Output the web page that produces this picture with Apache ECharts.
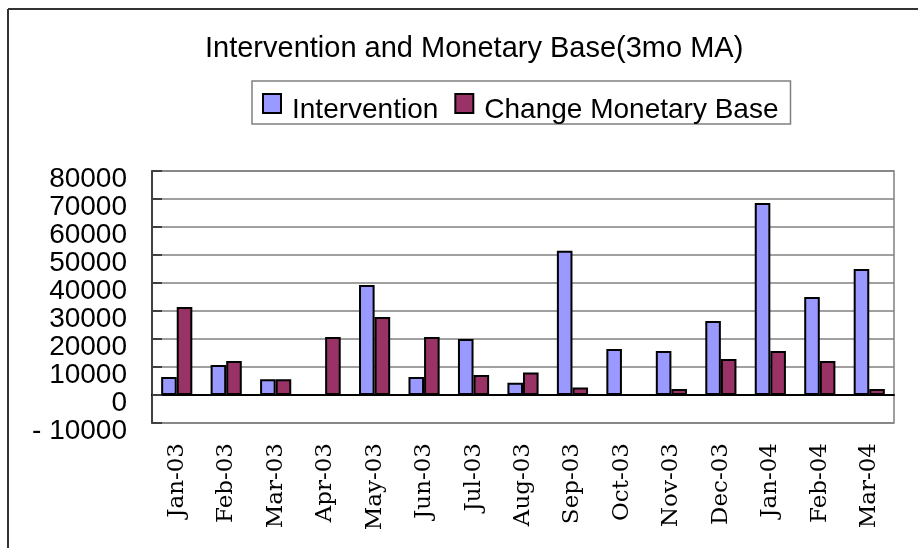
<!DOCTYPE html>
<html>
<head>
<meta charset="utf-8">
<script src="https://cdn.jsdelivr.net/npm/echarts@6/dist/echarts.min.js"></script>
<style>
  html, body { margin: 0; padding: 0; background: #fff; }
  #chart { width: 918px; height: 548px; }
</style>
</head>
<body>
<div id="chart"></div>
<script>
const months = ["Jan-03", "Feb-03", "Mar-03", "Apr-03", "May-03", "Jun-03", "Jul-03",
  "Aug-03", "Sep-03", "Oct-03", "Nov-03", "Dec-03", "Jan-04", "Feb-04", "Mar-04"];
const intervention = [6400, 10700, 5600, 0, 39300, 6400, 20000,
  4400, 51500, 16400, 15700, 26400, 68600, 35000, 45000];
const monetaryBase = [31400, 12100, 5600, 20700, 27900, 20700, 7100,
  8000, 2700, 0, 2100, 12900, 15700, 12100, 2100];
const yMin = -10000, yMax = 80000, yStep = 10000;

const chart = echarts.init(document.getElementById("chart"));
const sans = "Liberation Sans";

chart.setOption({
  animation: false,
  backgroundColor: "#fff",
  title: {
    text: "Intervention and Monetary Base(3mo MA)",
    left: 205,
    top: 34,
    padding: 0,
    textStyle: { fontFamily: sans, fontSize: 29, fontWeight: "normal", color: "#000" }
  },
  legend: {
    left: 252,
    top: 81,
    padding: [2, 12, 0, 10],
    borderColor: "#808080",
    borderWidth: 1.5,
    itemWidth: 18,
    itemHeight: 19,
    itemGap: 16,
    icon: "rect",
    formatter: name => "{t|" + name + "}",
    textStyle: {
      fontFamily: sans, fontSize: 28, color: "#000",
      rich: { t: { fontFamily: sans, fontSize: 28, color: "#000", lineHeight: 28, padding: [13, 0, 0, 6] } }
    },
    data: ["Intervention", "Change Monetary Base"]
  },
  graphic: [
    { type: "line", shape: { x1: 8, y1: 9, x2: 918, y2: 9 }, style: { stroke: "#333", lineWidth: 2 } },
    { type: "line", shape: { x1: 8, y1: 9, x2: 8, y2: 548 }, style: { stroke: "#333", lineWidth: 2 } }
  ],
  grid: {
    left: 152, right: 24, top: 171, bottom: 125,
    outerBoundsMode: "none",
    containLabel: false,
    show: true, borderColor: "#808080", borderWidth: 1.5
  },
  xAxis: {
    type: "category",
    data: months,
    axisLine: { onZero: true, lineStyle: { color: "#000", width: 2 } },
    axisTick: { inside: true, length: 6, lineStyle: { color: "#444", width: 1.5 } },
    axisLabel: {
      rotate: 90, margin: 20, interval: 0,
      fontFamily: "DejaVu Serif", fontSize: 23, color: "#000"
    }
  },
  yAxis: {
    type: "value",
    min: yMin, max: yMax, interval: yStep,
    axisLine: { show: true, lineStyle: { color: "#404040", width: 2 } },
    axisTick: { show: true, inside: true, length: 10, lineStyle: { color: "#404040", width: 2 } },
    splitLine: { lineStyle: { color: "#808080", width: 1.5 } },
    axisLabel: {
      fontFamily: sans, fontSize: 28, color: "#000", margin: 25,
      verticalAlign: "top", lineHeight: 16,
      showMinLabel: true, showMaxLabel: true, hideOverlap: false,
      formatter: v => (v < 0 ? "- " + Math.abs(v) : String(v))
    }
  },
  series: [
    {
      name: "Intervention",
      type: "bar",
      data: intervention,
      barGap: "0%",
      barCategoryGap: "37%",
      itemStyle: { color: "#9999FF", borderColor: "#000", borderWidth: 2 }
    },
    {
      name: "Change Monetary Base",
      type: "bar",
      data: monetaryBase,
      itemStyle: { color: "#993366", borderColor: "#000", borderWidth: 2 }
    }
  ]
});
</script>
</body>
</html>
